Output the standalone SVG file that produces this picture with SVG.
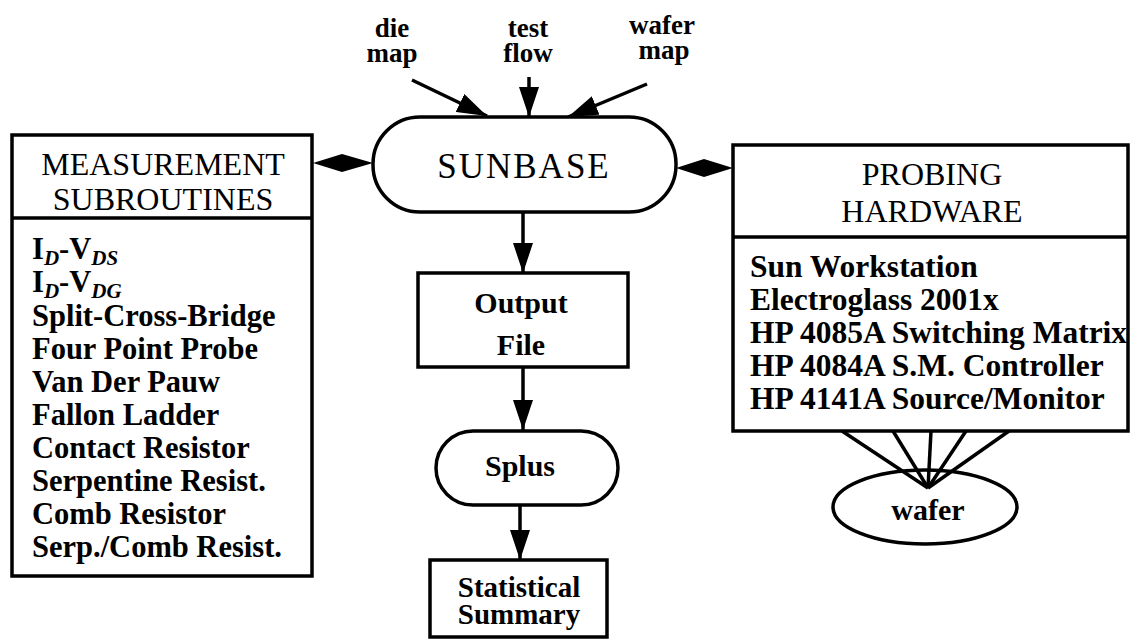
<svg xmlns="http://www.w3.org/2000/svg" width="1131" height="642" viewBox="0 0 1131 642">
<style>
.box{fill:#fff;stroke:#000;stroke-width:3.5}
.line{fill:none;stroke:#000;stroke-width:3.5}
.hdr{font-family:"Liberation Serif","Times New Roman",serif;font-size:32px;fill:#000}
.lst{font-family:"Liberation Serif","Times New Roman",serif;font-size:30.5px;font-weight:bold;fill:#000}
.rl{font-size:31.5px}
.lbl{font-family:"Liberation Serif","Times New Roman",serif;font-size:27px;font-weight:bold;fill:#000;text-anchor:middle}
.mid{font-family:"Liberation Serif","Times New Roman",serif;font-size:30px;font-weight:bold;fill:#000;text-anchor:middle}
.sm{font-size:29px}
.sub{font-style:italic;font-size:21px}
</style>
<defs>
<marker id="ah" markerUnits="userSpaceOnUse" markerWidth="30" markerHeight="20" refX="30" refY="10" orient="auto">
<path d="M0,0 L30,10 L0,20 z" fill="#000"/>
</marker>
</defs>
<rect width="1131" height="642" fill="#fff"/>

<g id="connectors">
<line class="line" x1="412" y1="80" x2="487" y2="116" marker-end="url(#ah)"/>
<line class="line" x1="529" y1="77" x2="529" y2="117" marker-end="url(#ah)"/>
<line class="line" x1="647" y1="84" x2="568" y2="117" marker-end="url(#ah)"/>
<line class="line" x1="523" y1="212" x2="523" y2="273" marker-end="url(#ah)"/>
<line class="line" x1="523" y1="367" x2="523" y2="430" marker-end="url(#ah)"/>
<line class="line" x1="520" y1="505" x2="520" y2="560" marker-end="url(#ah)"/>
<polygon points="313,163 342,154 373,163 342,172" fill="#000"/>
<polygon points="676,168 704,159 733,168 704,177" fill="#000"/>
<g class="line">
<line x1="842" y1="431" x2="928" y2="488"/>
<line x1="893" y1="431" x2="928" y2="488"/>
<line x1="931" y1="431" x2="928" y2="488"/>
<line x1="966" y1="431" x2="928" y2="488"/>
<line x1="1009" y1="431" x2="928" y2="488"/>
</g>
</g>

<g id="inputs">
<text class="lbl" x="392" y="37">die</text>
<text class="lbl" x="392" y="62">map</text>
<text class="lbl" x="528" y="37">test</text>
<text class="lbl" x="528" y="62">flow</text>
<text class="lbl" x="662" y="34">wafer</text>
<text class="lbl" x="664" y="59">map</text>
</g>

<g id="sunbase">
<rect class="box" x="373" y="117" width="303" height="95" rx="47" ry="47"/>
<text class="hdr" x="524" y="178" text-anchor="middle" style="font-size:35px;letter-spacing:2px">SUNBASE</text>
</g>

<g id="measurement">
<rect class="box" x="12" y="135" width="300" height="441"/>
<line class="line" x1="12" y1="218" x2="312" y2="218"/>
<text class="hdr" x="163" y="175" text-anchor="middle">MEASUREMENT</text>
<text class="hdr" x="163" y="210" text-anchor="middle">SUBROUTINES</text>
<text class="lst" x="32" y="259">I<tspan class="sub" dy="6">D</tspan><tspan dy="-6">-V</tspan><tspan class="sub" dy="6">DS</tspan></text>
<text class="lst" x="32" y="292">I<tspan class="sub" dy="6">D</tspan><tspan dy="-6">-V</tspan><tspan class="sub" dy="6">DG</tspan></text>
<text class="lst" x="32" y="326">Split-Cross-Bridge</text>
<text class="lst" x="32" y="359">Four Point Probe</text>
<text class="lst" x="32" y="392">Van Der Pauw</text>
<text class="lst" x="32" y="425">Fallon Ladder</text>
<text class="lst" x="32" y="458">Contact Resistor</text>
<text class="lst" x="32" y="491">Serpentine Resist.</text>
<text class="lst" x="32" y="524">Comb Resistor</text>
<text class="lst" x="32" y="557">Serp./Comb Resist.</text>
</g>

<g id="probing">
<rect class="box" x="733" y="145" width="395" height="286"/>
<line class="line" x1="733" y1="237" x2="1128" y2="237"/>
<text class="hdr" x="932" y="185" text-anchor="middle">PROBING</text>
<text class="hdr" x="932" y="222" text-anchor="middle">HARDWARE</text>
<text class="lst rl" x="750" y="277">Sun Workstation</text>
<text class="lst rl" x="750" y="310">Electroglass 2001x</text>
<text class="lst rl" x="750" y="343">HP 4085A Switching Matrix</text>
<text class="lst rl" x="750" y="376">HP 4084A S.M. Controller</text>
<text class="lst rl" x="750" y="409">HP 4141A Source/Monitor</text>
</g>

<g id="wafer">
<ellipse cx="925" cy="507" rx="92" ry="37" fill="none" stroke="#000" stroke-width="3.5"/>
<text class="mid" x="928" y="520">wafer</text>
</g>

<g id="output-file">
<rect class="box" x="418" y="273" width="210" height="94"/>
<text class="mid" x="521" y="313">Output</text>
<text class="mid" x="521" y="355">File</text>
</g>

<g id="splus">
<rect class="box" x="436" y="431" width="182" height="74" rx="37" ry="37"/>
<text class="mid" x="520" y="476">Splus</text>
</g>

<g id="statistical-summary">
<rect class="box" x="430" y="560" width="177" height="77"/>
<text class="mid sm" x="519" y="597">Statistical</text>
<text class="mid sm" x="519" y="624">Summary</text>
</g>
</svg>
